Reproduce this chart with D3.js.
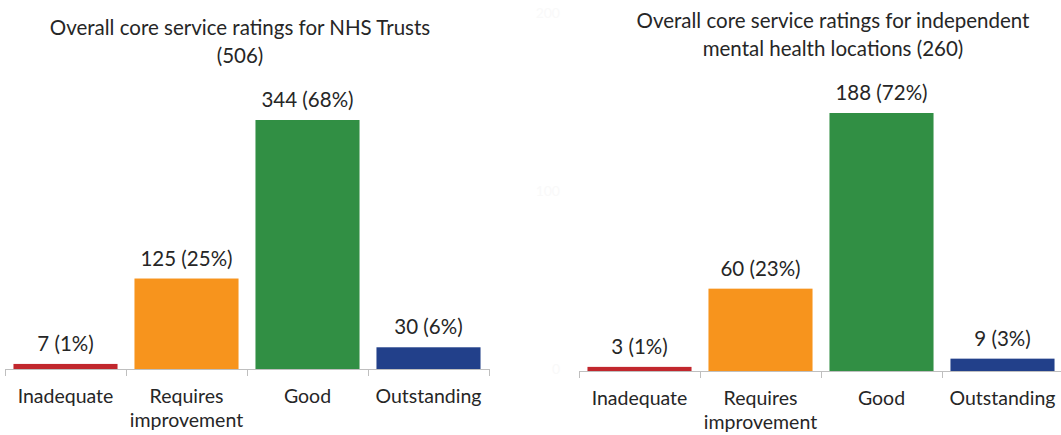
<!DOCTYPE html>
<html>
<head>
<meta charset="utf-8">
<script src="https://cdn.jsdelivr.net/npm/d3@7"></script>
<style>
  body { margin: 0; background: #fff; }
  svg text { font-family: Lato, "Open Sans", sans-serif; fill: #262626; }
  .axis path, .axis line { stroke: #bfbfbf; }
</style>
</head>
<body>
<div id="chart"></div>
<script>
// Data

var categories = ['Inadequate', 'Requires improvement', 'Good', 'Outstanding'];
var nhsCounts = [7, 125, 344, 30];
var nhsPercents = [1, 25, 68, 6];
var indCounts = [3, 60, 188, 9];
var indPercents = [1, 23, 72, 3];
var colors = ['#c1272d', '#f7941d', '#318f44', '#22408a'];
var nhsTitle = ['Overall core service ratings for NHS Trusts', '(506)'];
var indTitle = ['Overall core service ratings for independent', 'mental health locations (260)'];
var hiddenTicks = [0, 100, 200];

var width = 1061;
var height = 435;

var svg = d3.select('#chart')
    .append('svg')
    .attr('width', width)
    .attr('height', height);

function drawPanel(opts) {
    var g = svg.append('g');

    var x_scale = d3.scaleBand()
        .domain(categories)
        .range([opts.left, opts.left + 484])
        .paddingInner(0.14)
        .paddingOuter(0.07);

    var y_scale = d3.scaleLinear()
        .domain([0, opts.topValue])
        .range([opts.base, opts.topY]);

    // title
    g.append('text')
        .attr('text-anchor', 'middle')
        .attr('font-size', '20.5px')
        .selectAll('tspan')
        .data(opts.title)
        .enter()
        .append('tspan')
        .attr('x', opts.titleX)
        .attr('y', function(d, i) { return opts.titleY + i * 28; })
        .text(function(d) { return d; });

    // bars
    g.selectAll('rect')
        .data(opts.counts)
        .enter()
        .append('rect')
        .attr('x', function(d, i) { return x_scale(categories[i]); })
        .attr('y', function(d) { return y_scale(d); })
        .attr('width', x_scale.bandwidth())
        .attr('height', function(d) { return opts.base - y_scale(d); })
        .attr('fill', function(d, i) { return colors[i]; });

    // value labels
    g.selectAll('.val')
        .data(opts.counts)
        .enter()
        .append('text')
        .attr('class', 'val')
        .attr('text-anchor', 'middle')
        .attr('font-size', '20.5px')
        .attr('x', function(d, i) { return x_scale(categories[i]) + x_scale.bandwidth() / 2; })
        .attr('y', function(d) { return y_scale(d) - 13; })
        .text(function(d, i) { return d + ' (' + opts.percents[i] + '%)'; });

    // x axis, ticks between categories
    var x_axis = d3.axisBottom(x_scale).tickSize(0).tickFormat('');
    var ax = g.append('g')
        .attr('class', 'axis')
        .attr('transform', 'translate(0,' + opts.base + ')')
        .call(x_axis);
    ax.select('.domain').attr('d', 'M' + opts.left + ',0.5H' + (opts.left + 484));

    var step = x_scale.step();
    ax.selectAll('.sep')
        .data(d3.range(categories.length + 1))
        .enter()
        .append('line')
        .attr('class', 'sep')
        .attr('x1', function(i) { return opts.left + i * step + 0.5; })
        .attr('x2', function(i) { return opts.left + i * step + 0.5; })
        .attr('y1', 0)
        .attr('y2', 7)
        .attr('stroke', '#bfbfbf');

    // category labels (two lines for the long one)
    var labels = g.selectAll('.cat')
        .data(categories)
        .enter()
        .append('text')
        .attr('class', 'cat')
        .attr('text-anchor', 'middle')
        .attr('font-size', '19.5px');

    labels.selectAll('tspan')
        .data(function(d) {
            return d == 'Requires improvement' ? ['Requires', 'improvement'] : [d];
        })
        .enter()
        .append('tspan')
        .attr('x', function() {
            var c = d3.select(this.parentNode).datum();
            return x_scale(c) + x_scale.bandwidth() / 2;
        })
        .attr('y', function(d, i) { return opts.base + 34 + i * 24; })
        .text(function(d) { return d; });

    return g;
}

drawPanel({
    left: 5,
    base: 369,
    topY: 120,
    topValue: 344,
    counts: nhsCounts,
    percents: nhsPercents,
    title: nhsTitle,
    titleX: 240,
    titleY: 35
});

var right = drawPanel({
    left: 579,
    base: 371,
    topY: 113,
    topValue: 188,
    counts: indCounts,
    percents: indPercents,
    title: indTitle,
    titleX: 833,
    titleY: 28
});

// nearly invisible value axis left behind on the right chart
var y_hidden = d3.scaleLinear()
    .domain([0, 200])
    .range([369, 13]);

right.selectAll('.hid')
    .data(hiddenTicks)
    .enter()
    .append('text')
    .attr('class', 'hid')
    .attr('text-anchor', 'end')
    .attr('font-size', '14px')
    .attr('x', 560)
    .attr('y', function(d) { return y_hidden(d) + 5; })
    .style('fill', '#f9f9f9')
    .text(function(d) { return d; });
</script>
</body>
</html>
